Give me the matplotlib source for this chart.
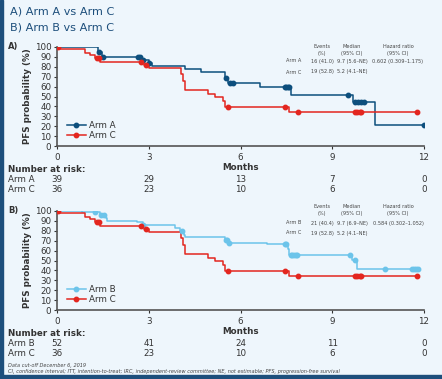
import matplotlib.pyplot as plt
import matplotlib.transforms as mtransforms
import numpy as np

# Kaplan-Meier step data (months, PFS %)
armA_t = [0, 1.34, 1.47, 2.75, 3.0, 3.1, 4.2, 4.7, 5.5, 5.6, 6.63, 7.65, 9.68, 10.4]
armA_s = [100, 95, 89.5, 87, 84, 81, 78, 75, 69, 64, 59.5, 52, 44, 21]
armA_end = 12.0
armA_cens = [1.38, 1.5, 2.65, 2.7, 2.8, 3.02, 5.52, 5.65, 5.75, 7.45, 7.5, 7.55, 7.6,
             9.5, 9.75, 9.85, 9.95, 10.05, 12.0]

armB_t = [0, 0.81, 1.4, 1.6, 1.65, 2.6, 2.82, 3.86, 4.02, 4.15, 4.2, 5.5, 5.58, 6.86,
          7.55, 7.6, 9.65, 9.8]
armB_s = [100, 99, 96, 92.5, 90, 88.5, 86, 82.5, 80, 76, 73.5, 71, 68, 66.3,
          61.5, 56, 51, 41.5]
armB_end = 11.85
armB_cens = [1.24, 1.45, 1.55, 2.82, 4.1, 5.52, 5.55, 5.62, 7.45, 7.5, 7.65, 7.7, 7.75,
             7.8, 7.85, 9.57, 9.75, 10.74, 11.6, 11.67, 11.73, 11.8]

armC_t = [0, 0.1, 0.92, 1.08, 1.24, 1.4, 2.85, 3.0, 4.07, 4.12, 4.17, 4.95, 5.17, 5.44, 5.5, 7.6]
armC_s = [100, 97.5, 94, 91.5, 89, 85, 82, 78.5, 73, 66, 57, 53, 49.5, 45, 39.5, 34.5]
armC_end = 11.76
armC_cens = [0.03, 1.3, 1.37, 2.75, 2.9, 5.58, 7.45, 7.87, 9.74, 9.8, 9.9, 9.95, 11.76]

risk_times = [0, 3, 6, 9, 12]
riskA = [39, 29, 13, 7, 0]
riskB = [52, 41, 24, 11, 0]
riskC = [36, 23, 10, 6, 0]

statsA = [("Arm A", "16 (41.0)", "9.7 (5.6\u2013NE)", "0.602 (0.309\u20131.175)"),
          ("Arm C", "19 (52.8)", "5.2 (4.1\u2013NE)", "")]
statsB = [("Arm B", "21 (40.4)", "9.7 (6.9\u2013NE)", "0.584 (0.302\u20131.052)"),
          ("Arm C", "19 (52.8)", "5.2 (4.1\u2013NE)", "")]

cA = "#0d4f7d"
cB = "#6cc4ea"
cC = "#e3261f"
bg = "#eef6fc"
navy = "#1d4f7c"
grey = "#333333"

W, H = 442, 379
fig = plt.figure(figsize=(W / 100, H / 100), dpi=100, facecolor=bg)


def fx(px):
    return px / W


def fy(py):
    return 1 - py / H


# border strips
fig.patches.append(plt.Rectangle((0, 0), fx(3), 1, transform=fig.transFigure,
                                 color=navy, zorder=0))
fig.patches.append(plt.Rectangle((0, 0), 1, 4 / H, transform=fig.transFigure,
                                 color=navy, zorder=0))

fig.text(fx(10), fy(11), "A) Arm A vs Arm C", fontsize=8.1, color=navy, va="center")
fig.text(fx(10), fy(27), "B) Arm B vs Arm C", fontsize=8.1, color=navy, va="center")


def curve(ax, t, s, end, cens, color, label):
    tt = list(t) + [end]
    ss = list(s) + [s[-1]]
    ax.step(tt, ss, where="post", color=color, lw=1.1, zorder=3)
    idx = np.searchsorted(t, cens, side="right") - 1
    cy = np.array(s)[idx]
    ax.plot(cens, cy, "o", color=color, ms=3.2, zorder=4)
    ax.plot([], [], "-o", color=color, lw=1.1, ms=3.2, label=label)


def panel(top, letter, arms, stats, risks, names, tab_y):
    left, right, bottom = 57, 424, top + 99
    ax = fig.add_axes([fx(left), fy(bottom), fx(right - left), (bottom - top) / H])
    ax.set_facecolor(bg)
    for t, s, end, cens, col, lab in arms:
        curve(ax, t, s, end, cens, col, lab)
    ax.set_xlim(0, 12)
    ax.set_ylim(0, 100)
    ax.set_xticks(risk_times)
    ax.set_yticks(np.arange(0, 101, 10))
    ax.tick_params(labelsize=6.3, colors=grey, length=2.5, width=0.8, pad=1.5)
    ax.tick_params(axis="x", pad=2.5)
    for sp in ["top", "right"]:
        ax.spines[sp].set_visible(False)
    for sp in ["left", "bottom"]:
        ax.spines[sp].set_color("#555555")
        ax.spines[sp].set_linewidth(1.2)
    ax.set_ylabel("PFS probability (%)", fontsize=6.3, fontweight="bold", color=grey, labelpad=2)
    ax.set_xlabel("Months", fontsize=6.3, fontweight="bold", color=grey, labelpad=1)
    ax.legend(loc="lower left", bbox_to_anchor=(0.01, 0.0), frameon=False, fontsize=6.3,
              handlelength=2.2, handletextpad=0.3, labelspacing=0.15, borderaxespad=0.3,
              labelcolor=grey)
    fig.text(fx(8), fy(top), letter, fontsize=6, fontweight="bold", color=grey, va="center")

    # stats table (pixel rows given in tab_y)
    ax_x = lambda px: (px - left) / (right - left)
    ax_y = lambda py: (bottom - py) / (bottom - top)
    kw = dict(transform=ax.transAxes, fontsize=3.6, color="#444444", ha="center", va="center")
    h1, h2, r1, r2 = tab_y
    ax.text(ax_x(322), ax_y(h1), "Events", **kw)
    ax.text(ax_x(322), ax_y(h2), "(%)", **kw)
    ax.text(ax_x(352), ax_y(h1), "Median", **kw)
    ax.text(ax_x(352), ax_y(h2), "(95% CI)", **kw)
    ax.text(ax_x(398), ax_y(h1), "Hazard ratio", **kw)
    ax.text(ax_x(398), ax_y(h2), "(95% CI)", **kw)
    for yy, row in zip([r1, r2], stats):
        for xpx, txt in zip([294, 322, 352, 398], row):
            ax.text(ax_x(xpx), ax_y(yy), txt, **kw)

    # number at risk
    tr = mtransforms.blended_transform_factory(ax.transData, fig.transFigure)
    fig.text(fx(8), fy(bottom + 24), "Number at risk:", fontsize=6.3, fontweight="bold",
             color=grey, va="center")
    for j, (nm, vals) in enumerate(zip(names, risks)):
        yy = fy(bottom + 33 + 10 * j)
        fig.text(fx(8), yy, nm, fontsize=6.3, color=grey, va="center")
        for tm, v in zip(risk_times, vals):
            fig.text(tm, yy, str(v), fontsize=6.3, color=grey, va="center", ha="center",
                     transform=tr)
    return ax


panel(47, "A)",
      [(armA_t, armA_s, armA_end, armA_cens, cA, "Arm A"),
       (armC_t, armC_s, armC_end, armC_cens, cC, "Arm C")],
      statsA, [riskA, riskC], ["Arm A", "Arm C"], (47, 54, 61, 72))
panel(211, "B)",
      [(armB_t, armB_s, armB_end, armB_cens, cB, "Arm B"),
       (armC_t, armC_s, armC_end, armC_cens, cC, "Arm C")],
      statsB, [riskB, riskC], ["Arm B", "Arm C"], (207, 214, 223, 233))

fig.text(fx(8), fy(365), "Data cut-off December 6, 2019", fontsize=3.6, style="italic",
         color="#444444", va="center")
fig.text(fx(8), fy(371.5), "CI, confidence interval; ITT, intention-to-treat; IRC, independent-review "
         "committee; NE, not estimable; PFS, progression-free survival", fontsize=3.6,
         style="italic", color="#444444", va="center")

fig.savefig("out.png", dpi=100, facecolor=bg)
